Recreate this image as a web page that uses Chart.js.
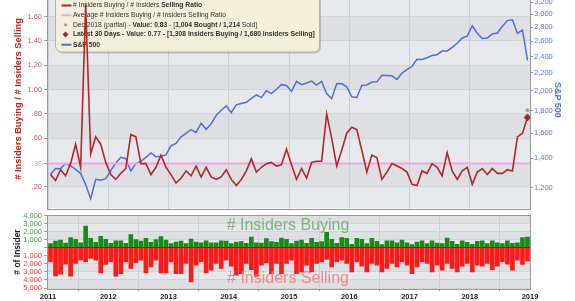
<!DOCTYPE html>
<html>
<head>
<meta charset="utf-8">
<script src="https://cdn.jsdelivr.net/npm/chart.js@4.4.1/dist/chart.umd.min.js"></script>
<style>
  html, body { margin: 0; padding: 0; background: #fff; }
  #wrap { position: relative; width: 575px; height: 301px; overflow: hidden;
          font-family: "Liberation Sans", Arial, sans-serif; }
  .box { position: absolute; left: 0; width: 575px; }
  .lbl { position: absolute; white-space: nowrap; }
</style>
</head>
<body>
<div id="wrap">
  <div class="box" id="topBox" style="top:-6px;height:222px"><canvas id="topChart"></canvas></div>
  <div class="box" id="botBox" style="top:205px;height:96px"><canvas id="botChart"></canvas></div>

  <div class="lbl" style="left:18px;top:99px;transform:translate(-50%,-50%) rotate(-90deg);font-weight:bold;font-size:9.3px;color:#b5251f"># Insiders Buying / # Insiders Selling</div>
  <div class="lbl" style="left:558px;top:100px;transform:translate(-50%,-50%) rotate(90deg);font-weight:bold;font-size:9px;color:#4a6fd8">S&amp;P 500</div>
  <div class="lbl" style="left:17px;top:252px;transform:translate(-50%,-50%) rotate(-90deg);font-weight:bold;font-size:8.5px;color:#222"># of Insider</div>
  <div class="lbl" style="left:288px;top:225px;transform:translate(-50%,-50%);font-size:16px;color:rgba(100,175,100,0.85)"># Insiders Buying</div>
  <div class="lbl" style="left:288px;top:278px;transform:translate(-50%,-50%);font-size:16px;color:rgba(240,120,120,0.85)"># Insiders Selling</div>
</div>

<script>
/* ---- data: monthly, Jan 2011 .. Dec 2018 ---- */
const yearLabels = ["2011","2012","2013","2014","2015","2016","2017","2018","2019"];

const ratio = [
  0.30, 0.25, 0.34, 0.29, 0.39, 0.55, 0.36, 1.70, 0.47, 0.61, 0.55, 0.40,
  0.30, 0.26, 0.31, 0.35, 0.63, 0.61, 0.39, 0.39, 0.30, 0.36, 0.46, 0.36,
  0.30, 0.23, 0.27, 0.33, 0.29, 0.37, 0.28, 0.36, 0.28, 0.26, 0.28, 0.34,
  0.26, 0.21, 0.26, 0.33, 0.43, 0.32, 0.36, 0.39, 0.40, 0.37, 0.38, 0.51,
  0.38, 0.26, 0.35, 0.27, 0.40, 0.41, 0.41, 0.80, 0.60, 0.37, 0.50, 0.64,
  0.69, 0.67, 0.50, 0.32, 0.46, 0.44, 0.26, 0.32, 0.39, 0.37, 0.35, 0.32,
  0.22, 0.21, 0.33, 0.31, 0.39, 0.36, 0.29, 0.48, 0.33, 0.26, 0.33, 0.36,
  0.22, 0.32, 0.35, 0.30, 0.35, 0.31, 0.31, 0.34, 0.33, 0.61, 0.64, 0.77
];
const avgRatio = 0.39;
const decPartial = 0.83;
const latest30 = 0.77;

const spx = [
  1286, 1327, 1326, 1364, 1345, 1321, 1292, 1219, 1131, 1253, 1247, 1258,
  1312, 1366, 1408, 1398, 1310, 1362, 1379, 1407, 1441, 1412, 1416, 1426,
  1498, 1515, 1569, 1598, 1631, 1606, 1686, 1633, 1682, 1757, 1806, 1848,
  1783, 1859, 1872, 1884, 1924, 1960, 1931, 2003, 1972, 2018, 2068, 2059,
  1995, 2105, 2068, 2086, 2107, 2063, 2104, 1972, 1920, 2079, 2080, 2044,
  1940, 1932, 2060, 2065, 2097, 2099, 2174, 2171, 2168, 2126, 2199, 2239,
  2279, 2364, 2363, 2384, 2412, 2423, 2470, 2472, 2519, 2575, 2648, 2674,
  2824, 2714, 2641, 2648, 2705, 2718, 2816, 2902, 2914, 2712, 2760, 2351
];

const buying = [
  500, 830, 960, 580, 1250, 1040, 620, 2700, 1170, 670, 1420, 1040,
  540, 870, 870, 540, 1620, 1000, 830, 1170, 670, 1000, 1370, 960,
  500, 710, 830, 500, 1080, 710, 620, 870, 620, 620, 870, 830,
  500, 710, 750, 540, 1330, 620, 580, 1120, 750, 670, 1210, 1040,
  500, 830, 960, 540, 1170, 670, 750, 1920, 1040, 540, 1250, 1170,
  420, 1170, 1040, 500, 1170, 790, 380, 870, 870, 620, 960, 620,
  380, 710, 870, 500, 870, 580, 500, 1210, 790, 420, 870, 670,
  420, 790, 870, 500, 870, 620, 500, 870, 540, 620, 1250, 1308
];
const selling = [
  1750, 3500, 3290, 2040, 3540, 1960, 1540, 1750, 1330, 1540, 3120, 2080,
  1750, 3540, 3210, 1750, 2580, 1870, 1540, 3120, 2370, 1540, 3120, 3120,
  1750, 3210, 3210, 1960, 4250, 2170, 1750, 3120, 2790, 1960, 2580, 1540,
  2290, 3420, 3210, 1960, 2710, 3540, 2170, 1870, 3210, 1960, 3210, 1960,
  1540, 3210, 3000, 2170, 3000, 1960, 1750, 1460, 2370, 1750, 1540, 1960,
  3000, 1750, 2290, 3000, 1960, 2170, 3000, 2580, 1960, 2370, 1750, 2170,
  3210, 2370, 1750, 1960, 3000, 2170, 2790, 1960, 2580, 3000, 2290, 1960,
  3000, 2170, 2290, 1960, 2710, 2290, 1750, 2040, 2790, 1540, 2080, 1680
];

const ratioTicks = [0.20, 0.39, 0.60, 0.80, 1.00, 1.20, 1.40, 1.60];
const spxTicks = [1200, 1400, 1600, 1800, 2000, 2200, 2400, 2600, 2800, 3000, 3200];

const legendRows = [
  { mark: "line",    color: "#b3262a", parts: [["# Insiders Buying / # Insiders ", 0], ["Selling Ratio", 1]] },
  { mark: "line",    color: "#f0a8e8", parts: [["Average # Insiders Buying / # Insiders Selling Ratio", 0]] },
  { mark: "dot",     color: "#a0a0a0", parts: [["Dec 2018 (partial) - ", 0], ["Value: 0.83", 1], [" - [", 0], ["1,004 Bought / 1,214", 1], [" Sold]", 0]] },
  { mark: "diamond", color: "#a52a2a", parts: [["Latest 30 Days - Value: 0.77 - [1,308 Insiders Buying / 1,680 Insiders Selling]", 1]] },
  { mark: "line",    color: "#4a6ee0", parts: [["S&P 500", 1]] }
];

/* ---- chart setup ---- */
const FONT = '"Liberation Sans", Arial, sans-serif';
Chart.defaults.font.family = FONT;
Chart.defaults.animation = false;

const xy = (arr, sign) => arr.map((v, i) => ({ x: i + 0.5, y: v * (sign || 1) }));
const yearTickBuilder = s => { s.ticks = yearLabels.map((_, k) => ({ value: k * 12 })); };

// grey panel background with alternate darker bands, plus a frame
const panelBg = {
  id: "panelBg",
  beforeDraw(chart, args, o) {
    const { ctx, chartArea: a } = chart;
    const sc = chart.scales[o.axis];
    ctx.save();
    ctx.fillStyle = "#e7e8eb";
    ctx.fillRect(a.left, a.top, a.width, a.height);
    ctx.beginPath();
    ctx.rect(a.left, a.top, a.width, a.height);
    ctx.clip();
    ctx.fillStyle = "#dedfe3";
    for (let v = o.from; v < o.to; v += 2 * o.step) {
      const y1 = sc.getPixelForValue(v + o.step), y2 = sc.getPixelForValue(v);
      ctx.fillRect(a.left, y1, a.width, y2 - y1);
    }
    ctx.restore();
  },
  afterDraw(chart) {
    const { ctx, chartArea: a } = chart;
    ctx.save();
    ctx.strokeStyle = "#9a9a9a";
    ctx.lineWidth = 1;
    ctx.strokeRect(Math.round(a.left) - 0.5, Math.round(a.top) - 0.5, Math.round(a.width) + 1, Math.round(a.height) + 1);
    ctx.restore();
  }
};

// legend box drawn under the lines (the lines cross over it)
const legendBox = {
  id: "legendBox",
  beforeDatasetsDraw(chart) {
    const ctx = chart.ctx;
    const oy = chart.chartArea.top + 1;   // canvas y of picture y = 0
    ctx.save();
    const font = (w, s) => (w ? "bold " : "") + s + "px " + FONT;
    const rowWidth = (row, s) => row.parts.reduce((t, p) => { ctx.font = font(p[1], s); return t + ctx.measureText(p[0]).width; }, 0);
    const size = Math.min(8, 10 * 242 / rowWidth(legendRows[3], 10));

    const bx = 55, by = -8 + oy, bw = 264, bh = 59;
    ctx.fillStyle = "rgba(0,0,0,0.18)";
    ctx.beginPath(); ctx.roundRect(bx + 2, by + 2, bw, bh, 6); ctx.fill();
    ctx.fillStyle = "#f2f0da";
    ctx.strokeStyle = "#b4b3a4";
    ctx.lineWidth = 1;
    ctx.beginPath(); ctx.roundRect(bx + 0.5, by + 0.5, bw, bh, 6); ctx.fill(); ctx.stroke();

    ctx.textBaseline = "middle";
    const rowY = [5, 14.8, 24.3, 34, 44.2];
    legendRows.forEach((row, i) => {
      const y = rowY[i] + oy;
      ctx.strokeStyle = ctx.fillStyle = row.color;
      if (row.mark === "line") {
        ctx.lineWidth = 2;
        ctx.beginPath(); ctx.moveTo(61.5, y); ctx.lineTo(71.5, y); ctx.stroke();
      } else if (row.mark === "dot") {
        ctx.beginPath(); ctx.arc(65.5, y, 1.6, 0, Math.PI * 2); ctx.fill();
      } else {
        ctx.beginPath();
        ctx.moveTo(65.5, y - 3); ctx.lineTo(68.5, y); ctx.lineTo(65.5, y + 3); ctx.lineTo(62.5, y);
        ctx.closePath(); ctx.fill();
      }
      let x = 73;
      ctx.fillStyle = "#333";
      row.parts.forEach(p => {
        ctx.font = font(p[1], size);
        ctx.fillText(p[0], x, y);
        x += ctx.measureText(p[0]).width;
      });
    });
    ctx.restore();
  }
};

// move/resize a chart so its plot area lands on the given picture rows
function place(chart, box, top, bottom) {
  let a = chart.chartArea;
  box.style.height = Math.round(box.clientHeight + (bottom - top) - (a.bottom - a.top)) + "px";
  chart.resize();
  a = chart.chartArea;
  box.style.top = (top - a.top) + "px";
}

/* ---- top panel: ratio + S&P 500 ---- */
const topChart = new Chart(document.getElementById("topChart"), {
  type: "line",
  data: {
    datasets: [
      { data: [{ x: 95.5, y: decPartial }], yAxisID: "y", showLine: false,
        pointRadius: 2, pointBackgroundColor: "#a0a0a0", pointBorderWidth: 0 },
      { data: [{ x: 95.5, y: latest30 }], yAxisID: "y", showLine: false, pointStyle: "rectRot",
        pointRadius: 3.5, pointBackgroundColor: "#a52a2a", pointBorderColor: "#7a1a1a", pointBorderWidth: 0.5 },
      { data: xy(ratio), yAxisID: "y", borderColor: "#b3262a", borderWidth: 1.6, pointRadius: 0, tension: 0 },
      { data: [{ x: 0, y: avgRatio }, { x: 96, y: avgRatio }], yAxisID: "y",
        borderColor: "#f0a8e8", borderWidth: 2, pointRadius: 0 },
      { data: xy(spx), yAxisID: "y2", borderColor: "#4a6ee0", borderWidth: 1.5, pointRadius: 0, tension: 0 }
    ]
  },
  options: {
    responsive: true,
    maintainAspectRatio: false,
    layout: { padding: { left: 0, right: 0, top: 0, bottom: 0 } },
    plugins: {
      legend: { display: false },
      tooltip: { enabled: false },
      panelBg: { axis: "y", from: 0.2, to: 1.8, step: 0.2 }
    },
    scales: {
      x: {
        type: "linear", min: 0, max: 96,
        afterBuildTicks: yearTickBuilder,
        afterFit: s => { s.height = 0; },
        ticks: { display: false },
        grid: { color: "#cdced3", drawTicks: false },
        border: { display: false }
      },
      y: {
        type: "linear", position: "left", min: 0.0206, max: 1.741,
        afterBuildTicks: s => { s.ticks = ratioTicks.map(v => ({ value: v })); },
        afterFit: s => { s.width = 48; },
        ticks: {
          autoSkip: false, padding: 2,
          font: { size: 7.5 },
          color: c => (c.tick && Math.abs(c.tick.value - avgRatio) < 1e-6) ? "#e58ee0" : "#d0505a",
          callback: v => v < 1 ? v.toFixed(2).replace(/^0/, "") : v.toFixed(2)
        },
        grid: { color: "#d2d3d7", tickLength: 4, tickColor: "#999" },
        border: { display: false }
      },
      y2: {
        type: "logarithmic", position: "right", min: 1074, max: 3245,
        afterBuildTicks: s => { s.ticks = spxTicks.map(v => ({ value: v })); },
        afterFit: s => { s.width = 45; },
        ticks: {
          autoSkip: false, padding: 1,
          font: { size: 7.5 },
          color: "#5577dd",
          callback: v => Number(v).toLocaleString("en-US")
        },
        grid: { drawOnChartArea: false, tickLength: 3, tickColor: "#999" },
        border: { display: false }
      }
    }
  },
  plugins: [panelBg, legendBox]
});

/* ---- bottom panel: insiders buying / selling ---- */
const botChart = new Chart(document.getElementById("botChart"), {
  type: "bar",
  data: {
    datasets: [
      { data: xy(buying), backgroundColor: "#178c17", barThickness: 4, grouped: false },
      { data: xy(selling, -1), backgroundColor: "#ff1a1a", barThickness: 4, grouped: false }
    ]
  },
  options: {
    responsive: true,
    maintainAspectRatio: false,
    layout: { padding: { left: 0, right: 45, top: 0, bottom: 0 } },
    plugins: {
      legend: { display: false },
      tooltip: { enabled: false },
      panelBg: { axis: "y", from: -5000, to: 4000, step: 1000 }
    },
    scales: {
      x: {
        type: "linear", min: 0, max: 96, offset: false,
        afterBuildTicks: yearTickBuilder,
        ticks: {
          autoSkip: false, maxRotation: 0, padding: 1,
          font: { size: 7.5, weight: "bold" }, color: "#222",
          callback: v => yearLabels[Math.round(v / 12)]
        },
        grid: { color: "#cdced3", tickLength: 3, tickColor: "#888" },
        border: { display: false }
      },
      y: {
        min: -5000, max: 4000,
        afterFit: s => { s.width = 48; },
        ticks: {
          stepSize: 1000, autoSkip: false, padding: 2,
          font: { size: 7.5 },
          color: c => (c.tick && c.tick.value > 0) ? "#3d9b3d" : "#ff3333",
          callback: v => v === 0 ? "" : Math.abs(v).toLocaleString("en-US")
        },
        grid: {
          color: c => (c.tick && c.tick.value === 0) ? "#222" : "#d2d3d7",
          tickLength: 4, tickColor: "#999"
        },
        border: { display: false }
      }
    }
  },
  plugins: [panelBg]
});

place(topChart, document.getElementById("topBox"), -1, 208);
place(botChart, document.getElementById("botBox"), 215.7, 287.7);
</script>
</body>
</html>
